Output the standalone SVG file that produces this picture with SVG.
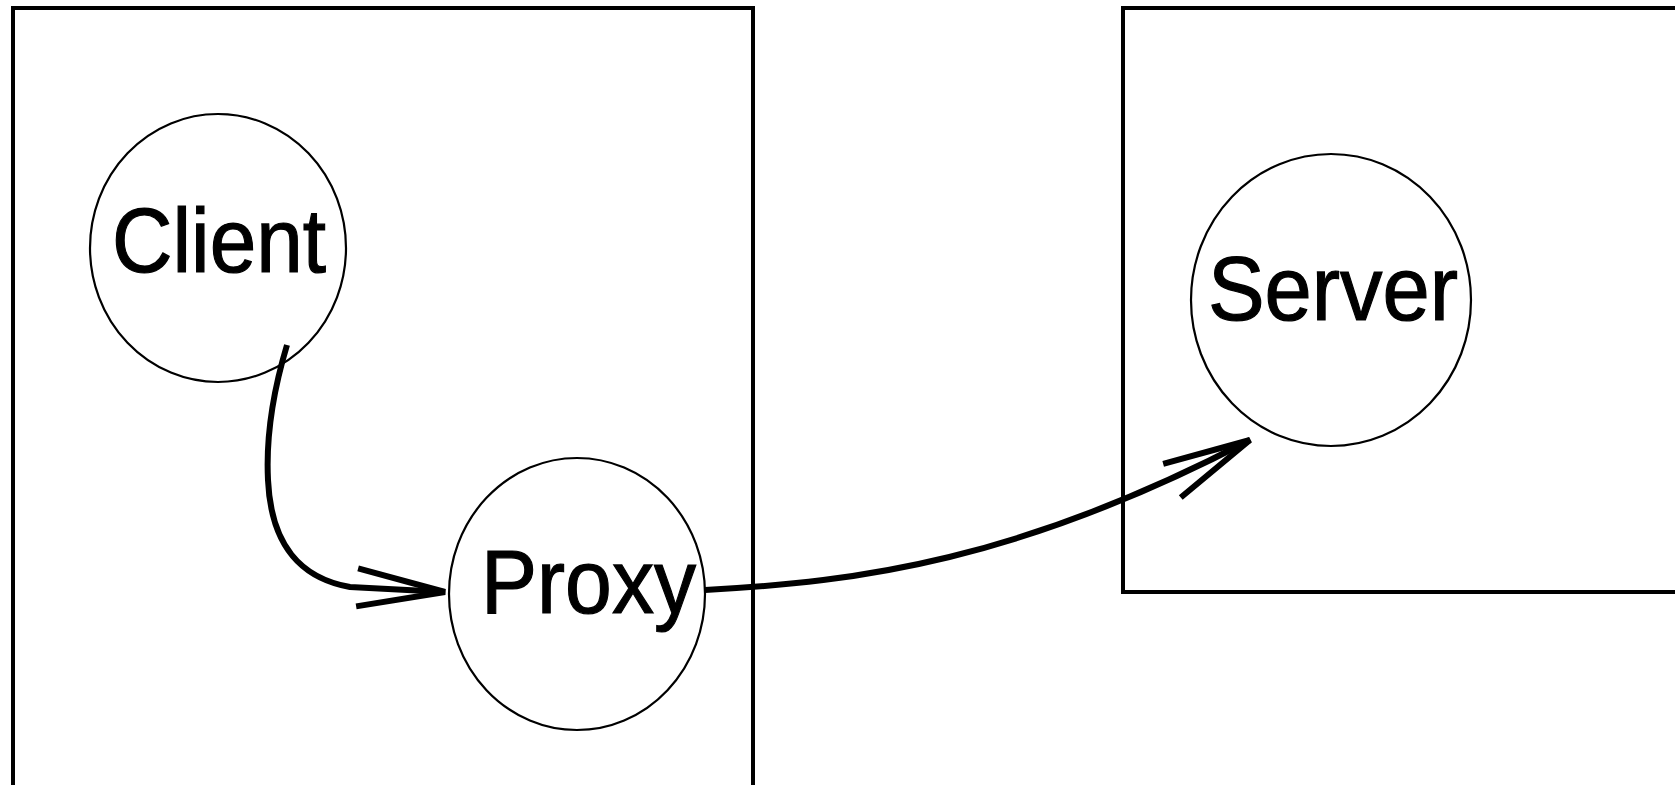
<svg xmlns="http://www.w3.org/2000/svg" width="1675" height="785" viewBox="0 0 1675 785">
  <style>
    .box { fill: none; stroke: #000; stroke-width: 4; }
    .node { fill: none; stroke: #000; stroke-width: 2.2; }
    .label { font-family: "Liberation Sans", Arial, sans-serif; font-size: 90px; fill: #000; stroke: #000; stroke-width: 1.2; }
    .link { fill: none; stroke: #000; stroke-width: 6; stroke-linejoin: round; }
  </style>
  <defs>
    <marker id="openArrow" markerUnits="userSpaceOnUse" orient="auto" markerWidth="100" markerHeight="50" refX="0" refY="0" viewBox="-95 -25 100 50" overflow="visible">
      <path d="M -88 -19 L 0 0 L -88 19" fill="none" stroke="#000" stroke-width="6" stroke-linejoin="miter"/>
    </marker>
  </defs>
  <rect width="1675" height="785" fill="#fff"/>

  <!-- hosts -->
  <g id="client-host">
    <rect class="box" x="13" y="8" width="740" height="800"/>
  </g>
  <g id="server-host">
    <rect class="box" x="1123" y="8" width="600" height="584"/>
  </g>

  <!-- processes -->
  <g id="client">
    <ellipse class="node" cx="218" cy="248" rx="128" ry="134"/>
    <text class="label" x="112" y="272" textLength="214" lengthAdjust="spacingAndGlyphs">Client</text>
  </g>
  <g id="proxy">
    <ellipse class="node" cx="577" cy="594" rx="128" ry="136"/>
    <text class="label" x="481" y="613" textLength="215" lengthAdjust="spacingAndGlyphs">Proxy</text>
  </g>
  <g id="server">
    <ellipse class="node" cx="1331" cy="300" rx="140" ry="146"/>
    <text class="label" x="1208" y="320" textLength="250" lengthAdjust="spacingAndGlyphs">Server</text>
  </g>

  <!-- connectors -->
  <g id="connectors">
    <path class="link" d="M 287 345 C 272 395, 266 440, 268 480 C 271 545, 300 578, 350 587 L 445 592" marker-end="url(#openArrow)"/>
    <path class="link" d="M 705 590 C 860 582, 1020 560, 1250 440" marker-end="url(#openArrow)"/>
  </g>
</svg>
